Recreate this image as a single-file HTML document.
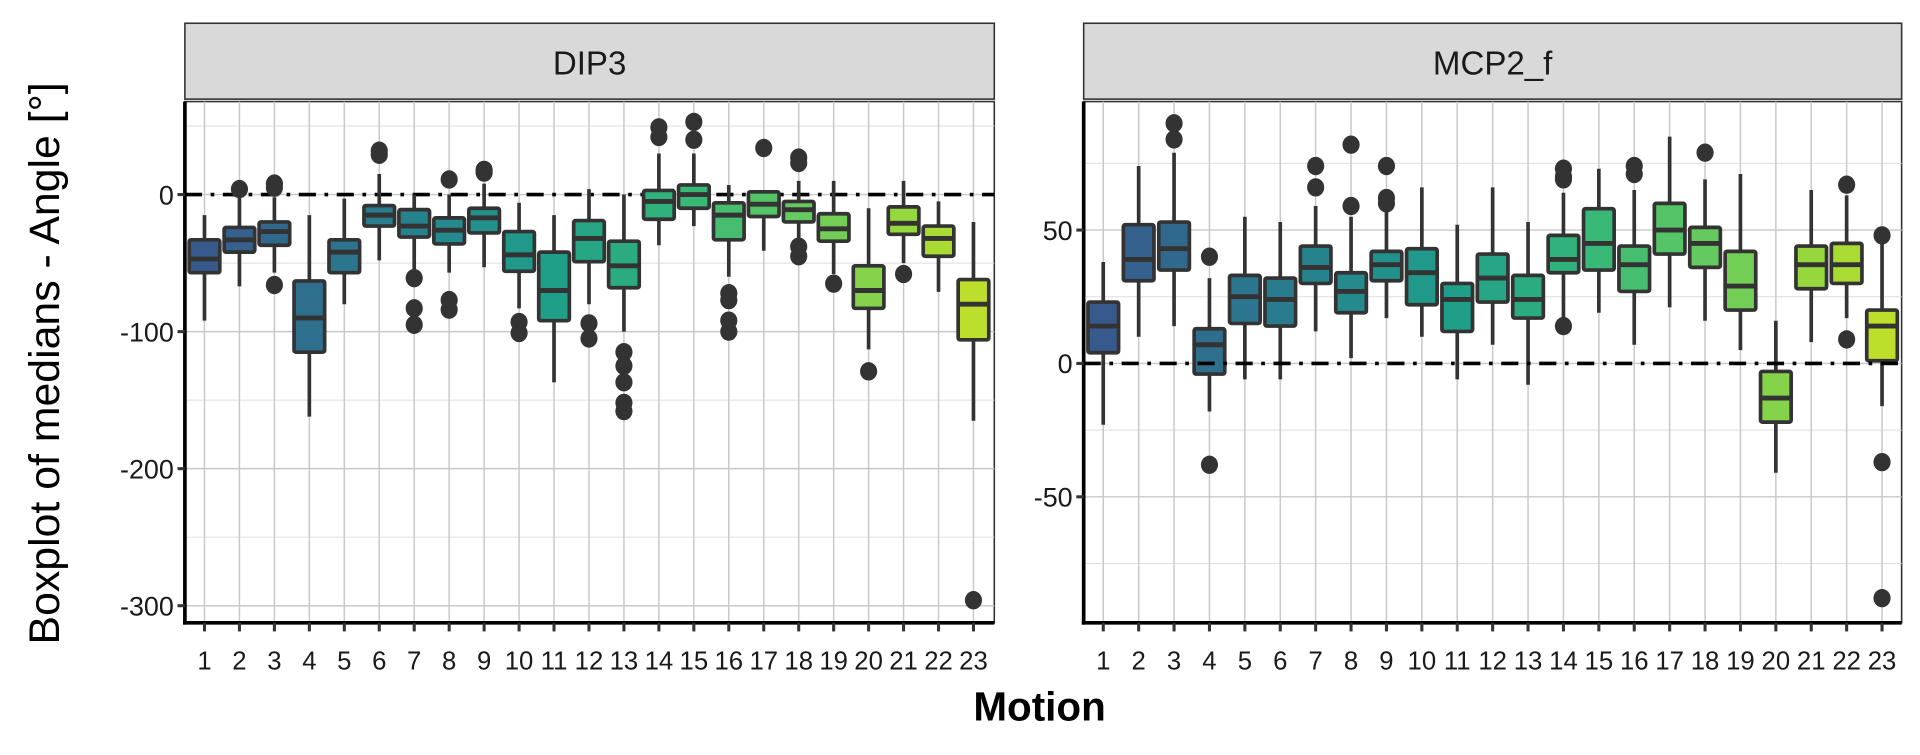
<!DOCTYPE html>
<html><head><meta charset="utf-8"><style>
html,body{margin:0;padding:0;background:#fff;}
svg{display:block;}
text{font-family:"Liberation Sans",sans-serif;}
</style></head><body>
<svg id="chart" width="1920" height="755" viewBox="0 0 1568 617" preserveAspectRatio="none" xmlns="http://www.w3.org/2000/svg">
<text x="0" y="0" transform="translate(48,297) rotate(-90)" text-anchor="middle" font-size="35" fill="#000">Boxplot of medians - Angle [°]</text>
<text x="849" y="589" text-anchor="middle" font-size="33" font-weight="bold" fill="#000">Motion</text>
</svg>
<script>
const motions = ["1","2","3","4","5","6","7","8","9","10","11","12","13","14","15","16","17","18","19","20","21","22","23"];
// [lowWhisker, q1, median, q3, highWhisker]
const dipStats = [
[-92,-57,-47,-33,-15],[-67,-42,-33,-24,0],[-57,-37,-27,-20,-2],[-162,-115,-90,-63,-15],[-80,-57,-42,-33,-3],
[-48,-23,-15,-8,15],[-55,-31,-23,-11,0],[-57,-36,-26,-17,0],[-53,-28,-17,-10,8],[-83,-56,-44,-27,-6],
[-137,-92,-70,-42,-15],[-80,-49,-32,-19,4],[-100,-68,-52,-34,0],[-37,-18,-5,3,30],[-23,-10,0,7,30],
[-60,-33,-15,-6,7],[-41,-16,-7,2,0],[-36,-20,-11,-5,10],[-58,-34,-25,-14,10],[-113,-83,-70,-52,-10],
[-50,-29,-21,-9,10],[-71,-45,-32,-23,-5],[-165,-106,-80,-62,-20]];
const dipOutliers = [[],[4],[5,8,-66],[],[],[29,32],[-61,-83,-95],[11,-77,-84],[16,18],[-93,-101],[],[-94,-105],
[-115,-125,-137,-152,-158],[42,49],[40,53],[-72,-77,-92,-100],[34],[23,27,-38,-45],[-65],[-129],[-58],[],[-296]];
const mcpStats = [
[-23,4,14,23,38],[10,31,39,52,74],[14,35,43,53,79],[-18,-4,7,13,32],[-6,15,25,33,55],
[-6,14,24,32,53],[12,30,36,44,59],[2,19,27,34,55],[17,31,37,42,62],[10,22,34,43,66],
[-6,12,24,30,52],[7,23,32,41,66],[-8,17,24,33,53],[14,34,39,48,64],[19,35,45,58,73],
[7,27,37,44,65],[21,41,50,60,85],[16,36,45,51,69],[5,20,29,42,71],[-41,-22,-13,-3,16],
[8,28,37,44,65],[17,30,37,45,63],[-16,1,14,20,48]];
const mcpOutliers = [[],[],[84,90],[40,-38],[],[],[66,74],[59,82],[60,62,74],[],[],[],[],[14,69,70,73],[],[71,74],[],[79],[],[],[],[9,67],[48,-37,-88]];
const dipTicks = [0,-100,-200,-300];
const dipMinor = [50,-50,-150,-250];
const mcpTicks = [50,0,-50];
const mcpMinor = [75,25,-25,-75];

const NS="http://www.w3.org/2000/svg";
const svg=document.getElementById('chart');
function mk(tag,attrs,parent){const e=document.createElementNS(NS,tag);for(const k in attrs)e.setAttribute(k,attrs[k]);(parent||svg).appendChild(e);return e;}
const vir=[[68,1,84],[72,40,120],[62,74,137],[49,104,142],[38,130,142],[31,158,137],[53,183,121],[109,205,89],[180,222,44],[253,231,37]];
function viridis(t){const p=t*(vir.length-1);const i=Math.min(Math.floor(p),vir.length-2);const f=p-i;const c=vir[i].map((v,k)=>Math.round(v+(vir[i+1][k]-v)*f));return `rgb(${c[0]},${c[1]},${c[2]})`;}
function color(i){return viridis(0.28+0.62*i/22);}

function panel(cfg){
  const g=mk('g',{});
  
  
  const {x0,x1,y0,y1}=cfg;
  const ys=v=>cfg.zeroY - v*cfg.ppu;
  const xs=i=>cfg.firstX + i*cfg.step;
  const strip=mk('rect',{x:x0,y:19,width:x1-x0,height:62,fill:'#d9d9d9',stroke:'#333','stroke-width':1.3},g);
  
  
  const st=mk('text',{x:(x0+x1)/2,y:61,'text-anchor':'middle','font-size':27,fill:'#1a1a1a'},g);
  st.textContent=cfg.title;
  
  
  mk('rect',{x:x0,y:y0,width:x1-x0,height:y1-y0,fill:'#fff',stroke:'#333','stroke-width':1.3},g);
  cfg.minor.forEach(v=>{const l=mk('line',{x1:x0,x2:x1,y1:ys(v),y2:ys(v),stroke:'#dedede','stroke-width':0.8},g);});
  cfg.ticks.forEach(v=>{const l=mk('line',{x1:x0,x2:x1,y1:ys(v),y2:ys(v),stroke:'#c8c8c8','stroke-width':1.2},g);});
  motions.forEach((m,i)=>{const l=mk('line',{x1:xs(i),x2:xs(i),y1:y0,y2:y1,stroke:'#c8c8c8','stroke-width':1.2},g);});
  const ref=()=>{const l=mk('line',{x1:x0,x2:x1,y1:ys(0),y2:ys(0),stroke:'#000','stroke-width':3,'stroke-dasharray':'14 7 3 7'},g);};
  if(!cfg.refOnTop) ref();
  const bw=25;
  cfg.stats.forEach((s,i)=>{
    const bg=mk('g',{},g);
    
    
    const x=xs(i);
    mk('line',{x1:x,x2:x,y1:ys(s[0]),y2:ys(s[4]),stroke:'#333','stroke-width':3},bg);
    mk('rect',{x:x-bw/2,y:ys(s[3]),width:bw,height:ys(s[1])-ys(s[3]),fill:color(i),stroke:'#333','stroke-width':3,rx:1.5},bg);
    mk('line',{x1:x-bw/2,x2:x+bw/2,y1:ys(s[2]),y2:ys(s[2]),stroke:'#333','stroke-width':4},bg);
    cfg.out[i].forEach(v=>{const c=mk('ellipse',{cx:x,cy:ys(v),rx:7,ry:7.5,fill:'#333'},bg);});
  });
  if(cfg.refOnTop) ref();
  mk('line',{x1:x0,x2:x0,y1:y0,y2:y1+1.5,stroke:'#000','stroke-width':3},g);
  mk('line',{x1:x0-1.5,x2:x1,y1:y1,y2:y1,stroke:'#000','stroke-width':3},g);
  cfg.ticks.forEach(v=>{
    mk('line',{x1:x0-6,x2:x0,y1:ys(v),y2:ys(v),stroke:'#333','stroke-width':2.5},g);
    const t=mk('text',{x:x0-9,y:ys(v)+8,'text-anchor':'end','font-size':22,fill:'#1a1a1a'},g);
    t.textContent=String(v);
    
    
  });
  motions.forEach((m,i)=>{
    mk('line',{x1:xs(i),x2:xs(i),y1:y1,y2:y1+7,stroke:'#333','stroke-width':2.5},g);
    const t=mk('text',{x:xs(i),y:y1+38,'text-anchor':'middle','font-size':21,fill:'#1a1a1a'},g);
    t.textContent=m;
    
    
  });
}
panel({name:'dip3',title:'DIP3',x0:151,x1:812,y0:83,y1:509,zeroY:159,ppu:1.12,firstX:167,step:(795-167)/22,ticks:dipTicks,minor:dipMinor,stats:dipStats,out:dipOutliers,refOnTop:false});
panel({name:'mcp2f',title:'MCP2_f',x0:885,x1:1553,y0:83,y1:509,zeroY:297,ppu:2.18,firstX:901,step:(1537-901)/22,ticks:mcpTicks,minor:mcpMinor,stats:mcpStats,out:mcpOutliers,refOnTop:true});
</script>
</body></html>
